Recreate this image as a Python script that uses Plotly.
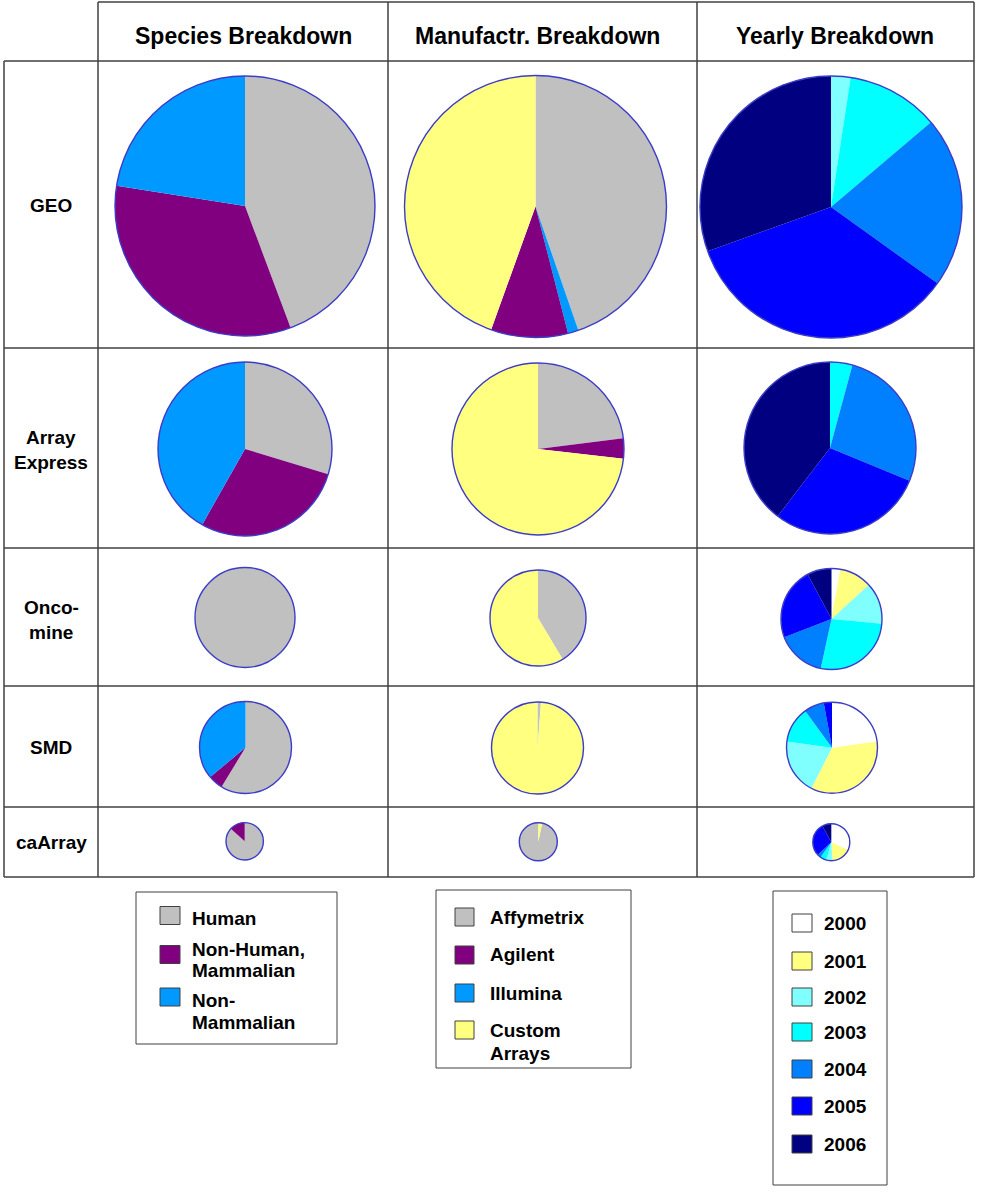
import plotly.graph_objects as go

W, H = 984, 1200
OFF_X, OFF_Y = 0, 0

# ---------------- data ----------------
databases = [["GEO"], ["Array", "Express"], ["Onco-", "mine"], ["SMD"], ["caArray"]]
columns = ["Species Breakdown", "Manufactr. Breakdown", "Yearly Breakdown"]

species_labels = ["Human", "Non-Human, Mammalian", "Non-Mammalian"]
species_legend_text = [["Human"], ["Non-Human,", "Mammalian"], ["Non-", "Mammalian"]]
species_geo = [44.3, 33.2, 22.5]
species_ae = [29.7, 28.5, 41.8]
species_onco = [100.0, 0.0, 0.0]
species_smd = [58.7, 5.2, 36.1]
species_caarray = [86.7, 13.3, 0.0]

# slice order as drawn clockwise in the pies
manuf_labels = ["Affymetrix", "Illumina", "Agilent", "Custom Arrays"]
manuf_legend_order = ["Affymetrix", "Agilent", "Illumina", "Custom Arrays"]
manuf_legend_text = [["Affymetrix"], ["Agilent"], ["Illumina"], ["Custom", "Arrays"]]
manuf_geo = [44.7, 1.3, 9.5, 44.5]
manuf_ae = [23.0, 0.0, 3.8, 73.2]
manuf_onco = [41.4, 0.0, 0.0, 58.6]
manuf_smd = [1.2, 0.0, 0.0, 98.8]
manuf_caarray = [96.7, 0.0, 0.0, 3.3]

year_labels = ["2000", "2001", "2002", "2003", "2004", "2005", "2006"]
year_geo = [0.0, 0.0, 2.4, 11.4, 21.1, 34.6, 30.5]
year_ae = [0.0, 0.0, 0.0, 4.2, 27.0, 29.2, 39.6]
year_onco = [2.8, 10.4, 13.3, 26.9, 15.7, 23.1, 7.8]
year_smd = [22.8, 34.7, 19.7, 12.8, 7.1, 2.9, 0.0]
year_caarray = [32.0, 17.0, 5.5, 5.5, 3.0, 29.0, 8.0]

# ---------------- styles ----------------
colors = {
    "Human": "#C0C0C0", "Non-Human, Mammalian": "#800080", "Non-Mammalian": "#0099FF",
    "Affymetrix": "#C0C0C0", "Agilent": "#800080", "Illumina": "#0099FF",
    "Custom Arrays": "#FFFF80",
    "2000": "#FFFFFF", "2001": "#FFFF80", "2002": "#80FFFF", "2003": "#00FFFF",
    "2004": "#0080FF", "2005": "#0000FF", "2006": "#000080",
}
OUTLINE = "#3C3CC8"
GRID = "#404040"
FONT = "Liberation Sans, Arial, sans-serif"

# pie geometry: (center x, center y, radius) in pixels, rotation
pies = [
    (species_labels, species_geo, 245, 206, 130, 0),
    (manuf_labels, manuf_geo, 535.5, 206.5, 131, 0),
    (year_labels, year_geo, 831, 207, 131, 0),
    (species_labels, species_ae, 245, 449, 87, 0),
    (manuf_labels, manuf_ae, 538, 449, 86, 0),
    (year_labels, year_ae, 830, 448, 86, 0),
    (species_labels, species_onco, 245, 617.5, 50, 0),
    (manuf_labels, manuf_onco, 538, 618, 48, 0),
    (year_labels, year_onco, 831.5, 619, 50.5, 0),
    (species_labels, species_smd, 245.5, 747.5, 46, 0),
    (manuf_labels, manuf_smd, 537.5, 748, 46, 0),
    (year_labels, year_smd, 832, 747.7, 45.5, 0),
    (species_labels, species_caarray, 244.7, 841.3, 18.7, 0),
    (manuf_labels, manuf_caarray, 538.3, 841.7, 19, 12),
    (year_labels, year_caarray, 831.3, 842.2, 18.5, 0),
]

fig = go.Figure()


def fx(x):
    return (x - OFF_X) / W


def fy(y):
    return 1 - (y - OFF_Y) / H


def dom(cx, cy, r):
    return dict(x=[fx(cx - r), fx(cx + r)], y=[fy(cy + r), fy(cy - r)])


for labels, vals, cx, cy, r, rot in pies:
    d = dom(cx, cy, r)
    fig.add_trace(go.Pie(
        labels=labels, values=vals, sort=False, direction="clockwise", rotation=rot,
        marker=dict(colors=[colors[l] for l in labels], line=dict(width=0)),
        textinfo="none", hoverinfo="label+percent", showlegend=False, domain=d,
    ))
    fig.add_trace(go.Pie(
        values=[1], labels=["outline"], sort=False,
        marker=dict(colors=["rgba(0,0,0,0)"], line=dict(color=OUTLINE, width=1.4)),
        textinfo="none", hoverinfo="skip", showlegend=False, domain=d,
    ))

shapes = []
annotations = []


def px_line(x0, y0, x1, y1, color=GRID, width=1.5):
    shapes.append(dict(type="line", xref="paper", yref="paper",
                       x0=fx(x0), x1=fx(x1), y0=fy(y0), y1=fy(y1),
                       line=dict(color=color, width=width)))


def px_rect(x0, y0, x1, y1, fill="rgba(0,0,0,0)", color=GRID, width=1):
    shapes.append(dict(type="rect", xref="paper", yref="paper",
                       x0=fx(x0), x1=fx(x1), y0=fy(y1), y1=fy(y0),
                       fillcolor=fill, line=dict(color=color, width=width)))


def px_text(x, y, text, size, anchor="center"):
    annotations.append(dict(x=fx(x), y=fy(y), xref="paper", yref="paper",
                            text="<b>" + text + "</b>", showarrow=False,
                            xanchor=anchor, yanchor="middle",
                            font=dict(family=FONT, size=size, color="black")))


def px_lines(x, y_center, lines, size, spacing, anchor="center"):
    n = len(lines)
    for i, ln in enumerate(lines):
        px_text(x, y_center + (i - (n - 1) / 2) * spacing, ln, size, anchor)


# table grid
col_x = [4, 98, 388, 697, 974]
row_y = [61, 348, 548, 686, 807, 877]
px_line(98, 2, 974, 2)
for y in row_y:
    px_line(4, y, 974, y)
px_line(4, 61, 4, 877)
for x in col_x[1:]:
    px_line(x, 2, x, 877)

# headers
for cx, t in zip([243, 537, 835], columns):
    px_text(cx, 36, t, 23)

# row labels
for cy, t in zip([205, 450, 620, 747, 842], databases):
    px_lines(51, cy, t, 19, 25)

# legends
px_rect(136, 892, 337, 1044)
for lab, txt, sy, ty in zip(species_labels, species_legend_text, [915.5, 954.5, 997], [918, 960, 1011.5]):
    px_rect(160, sy - 9, 180, sy + 9, fill=colors[lab])
    px_lines(190, ty, txt, 19, 21, anchor="left")

px_rect(436, 890, 631, 1068)
for lab, txt, sy, ty in zip(manuf_legend_order, manuf_legend_text, [917, 955, 993, 1030], [917, 955, 993, 1041.5]):
    px_rect(455, sy - 9, 474, sy + 9, fill=colors[lab])
    px_lines(488, ty, txt, 19, 23, anchor="left")

px_rect(773, 891, 887, 1185)
for lab, sy in zip(year_labels, [923, 961, 997, 1032, 1069, 1106, 1144]):
    px_rect(792, sy - 9, 812, sy + 9, fill=colors[lab])
    px_text(822, sy, lab, 19, anchor="left")

fig.update_layout(
    width=W, height=H, autosize=False,
    margin=dict(l=0, r=0, t=0, b=0),
    paper_bgcolor="white", plot_bgcolor="white",
    shapes=shapes, annotations=annotations, showlegend=False,
)

fig.write_html("out.html", config={"displayModeBar": False},
               post_script="document.body.style.margin='0px';")
